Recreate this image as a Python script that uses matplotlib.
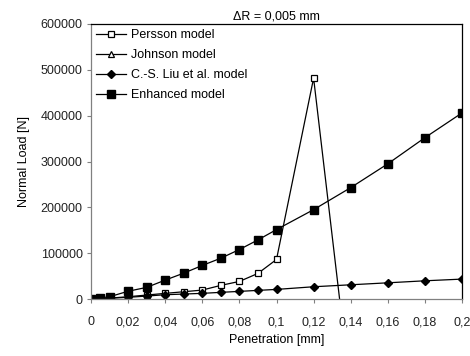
import matplotlib
matplotlib.use("Agg")
import matplotlib.pyplot as plt
from matplotlib.ticker import FuncFormatter

plt.rcParams['font.family'] = ['Liberation Sans', 'DejaVu Sans']

# Penetration [mm] and normal load [N] for each model
pen_persson = [0, 0.005, 0.01, 0.02, 0.03, 0.04, 0.05, 0.06, 0.07, 0.08, 0.09, 0.1, 0.12, 0.14]
load_persson = [0, 800, 2000, 5000, 8700, 12400, 15900, 19600, 29800, 38400, 55900, 86300, 482000, -206000]

pen_johnson = [0, 0.002, 0.005]
load_johnson = [0, 500, 1500]

pen_liu = [0, 0.005, 0.01, 0.02, 0.03, 0.04, 0.05, 0.06, 0.07, 0.08, 0.09, 0.1, 0.12, 0.14, 0.16, 0.18, 0.2]
load_liu = [0, 800, 1800, 3700, 6500, 9400, 10900, 12400, 14600, 16700, 18900, 21000, 26800, 31100, 35400, 39800, 43500]

pen_enh = [0, 0.005, 0.01, 0.02, 0.03, 0.04, 0.05, 0.06, 0.07, 0.08, 0.09, 0.1, 0.12, 0.14, 0.16, 0.18, 0.2]
load_enh = [0, 2500, 5000, 17000, 25400, 41300, 56500, 73300, 89100, 108000, 129000, 151500, 195000, 243000, 295000, 352000, 406000]

fig = plt.figure(figsize=(4.70, 3.56), dpi=100)
ax = fig.add_axes([0.1936, 0.160, 0.7894, 0.7726])

ax.plot(pen_persson, load_persson, color="black", lw=0.9, marker="s", ms=5,
        mfc="white", mec="black", mew=0.9, label="Persson model")
ax.plot(pen_johnson, load_johnson, color="black", lw=0.9, marker="^", ms=5,
        mfc="white", mec="black", mew=0.9, label="Johnson model")
ax.plot(pen_liu, load_liu, color="black", lw=0.9, marker="D", ms=4,
        mfc="black", mec="black", label="C.-S. Liu et al. model")
ax.plot(pen_enh, load_enh, color="black", lw=0.9, marker="s", ms=5.5,
        mfc="black", mec="black", label="Enhanced model")

ax.set_xlim(0, 0.2)
ax.set_ylim(0, 600000)
ax.set_xticks([0, 0.02, 0.04, 0.06, 0.08, 0.1, 0.12, 0.14, 0.16, 0.18, 0.2])
ax.set_yticks(range(0, 600001, 100000))

def comma_fmt(v, pos):
    s = f"{v:.2f}".rstrip("0").rstrip(".")
    return s.replace(".", ",")

ax.xaxis.set_major_formatter(FuncFormatter(comma_fmt))
ax.yaxis.set_major_formatter(FuncFormatter(lambda v, p: f"{int(v)}"))

ax.tick_params(axis="both", labelsize=9, colors="#222222", length=3,
               width=0.8, color="#808080")
ax.tick_params(axis="x", pad=9.5)
ax.tick_params(axis="y", pad=3)
for side in ["top", "right"]:
    ax.spines[side].set_color("black")
    ax.spines[side].set_linewidth(0.9)
for side in ["left", "bottom"]:
    ax.spines[side].set_color("#808080")
    ax.spines[side].set_linewidth(0.9)

ax.set_xlabel("Penetration [mm]", fontsize=9, labelpad=4)
ax.set_ylabel("Normal Load [N]", fontsize=9, labelpad=8)
ax.set_title("\u0394R = 0,005 mm", fontsize=9, pad=3)

ax.legend(loc="upper left", frameon=False, fontsize=9, handlelength=2.4,
          handletextpad=0.4, labelspacing=0.65, borderaxespad=0.2,
          borderpad=0.2)

fig.savefig("out.png", dpi=100)
